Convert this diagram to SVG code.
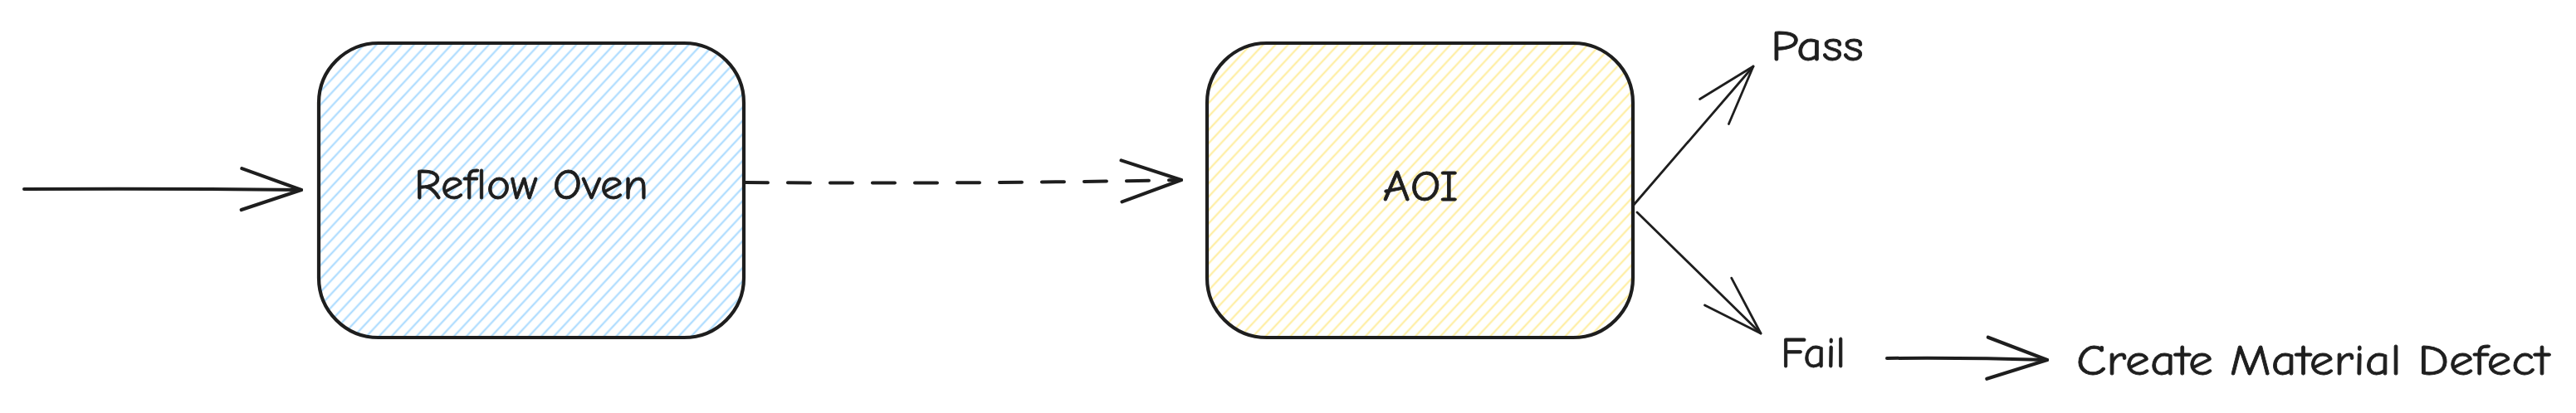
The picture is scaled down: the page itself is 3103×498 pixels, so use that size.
<svg xmlns="http://www.w3.org/2000/svg" width="3103" height="498" viewBox="0 0 3103 498">
  <style>
    .box { stroke: #1e1e1e; stroke-width: 4.2; stroke-linejoin: round; }
    .lbl { font-family: "Comic Neue", "Liberation Sans", "DejaVu Sans", sans-serif; font-size: 52px; font-weight: 400; fill: #1e1e1e; stroke: #1e1e1e; stroke-width: 0.8; }
    .conn { fill: none; stroke: #1e1e1e; stroke-linecap: round; stroke-linejoin: round; }
    .thick { stroke-width: 4; }
    .thin { stroke-width: 2.8; }
    .dash { stroke-dasharray: 27 24; }
  </style>
  <defs>
    <pattern id="hatchBlue" patternUnits="userSpaceOnUse" width="11" height="11" patternTransform="rotate(43)">
      <line x1="5.5" y1="-1" x2="5.5" y2="12" stroke="#a5d8ff" stroke-width="2"/>
    </pattern>
    <pattern id="hatchYellow" patternUnits="userSpaceOnUse" width="11" height="11" patternTransform="rotate(43)">
      <line x1="5.5" y1="-1" x2="5.5" y2="12" stroke="#ffec99" stroke-width="2"/>
    </pattern>
    <marker id="headThick" markerUnits="userSpaceOnUse" viewBox="-80 -30 84 60" refX="0" refY="0" markerWidth="84" markerHeight="60" orient="auto" overflow="visible">
      <path d="M -72 -25 L 0 0 L -72 25" fill="none" stroke="#1e1e1e" stroke-width="4.2" stroke-linecap="round" stroke-linejoin="round" stroke-dasharray="none"/>
    </marker>
    <marker id="headThin" markerUnits="userSpaceOnUse" viewBox="-80 -30 84 60" refX="0" refY="0" markerWidth="84" markerHeight="60" orient="auto" overflow="visible">
      <path d="M -72 -23 L 0 0 L -72 23" fill="none" stroke="#1e1e1e" stroke-width="2.8" stroke-linecap="round" stroke-linejoin="round"/>
    </marker>
  </defs>
  <rect width="3103" height="498" fill="#ffffff"/>

  <g id="node-reflow-oven">
    <rect x="384" y="52" width="512" height="355" rx="72" ry="72" fill="url(#hatchBlue)" class="box"/>
    <text x="640" y="240" text-anchor="middle" class="lbl" textLength="282" lengthAdjust="spacingAndGlyphs">Reflow Oven</text>
  </g>

  <g id="node-aoi">
    <rect x="1454" y="52" width="513" height="355" rx="72" ry="72" fill="url(#hatchYellow)" class="box"/>
    <text x="1711" y="242" text-anchor="middle" class="lbl" textLength="91" lengthAdjust="spacingAndGlyphs">AOI</text>
  </g>

  <g id="node-pass">
    <text x="2133" y="73" class="lbl" textLength="112" lengthAdjust="spacingAndGlyphs">Pass</text>
  </g>

  <g id="node-fail">
    <text x="2145" y="443" class="lbl" textLength="78" lengthAdjust="spacingAndGlyphs">Fail</text>
  </g>

  <g id="node-create-material-defect">
    <text x="2501" y="452" class="lbl" textLength="570" lengthAdjust="spacingAndGlyphs">Create Material Defect</text>
  </g>

  <g id="connectors">
    <path class="conn thick" d="M 29 228 Q 200 227 363 229" marker-end="url(#headThick)"/>
    <path class="conn thick dash" d="M 898 220 Q 1160 222 1423 217" marker-end="url(#headThick)"/>
    <path class="conn thin" d="M 1968 247 L 2112 80" marker-end="url(#headThin)"/>
    <path class="conn thin" d="M 1972 256 L 2121 402" marker-end="url(#headThin)"/>
    <path class="conn thick" d="M 2273 432 Q 2370 431 2466 434" marker-end="url(#headThick)"/>
  </g>
</svg>
